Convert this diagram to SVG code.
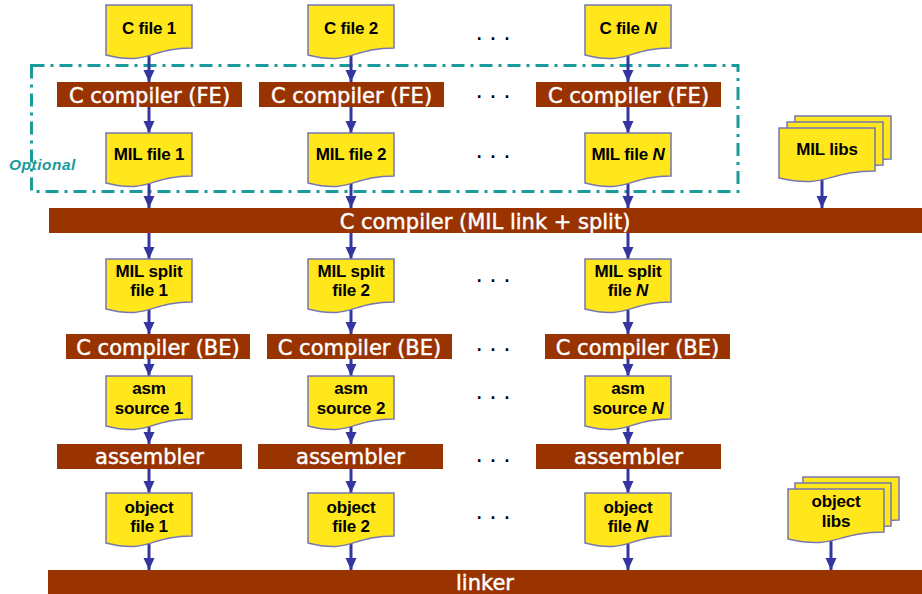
<svg xmlns="http://www.w3.org/2000/svg" xmlns:xlink="http://www.w3.org/1999/xlink" width="922" height="594" viewBox="0 0 922 594">
<style>
.doc{fill:#ffe71c;stroke:#7676b2;stroke-width:1.5}
.dt{font-family:"Liberation Sans",Arial,sans-serif;font-weight:bold;font-size:17px;fill:#000;text-anchor:middle;letter-spacing:-0.2px}
.box{fill:#993300}
.bt{font-family:"DejaVu Sans",Verdana,sans-serif;font-size:21px;fill:#fff;stroke:#fff;stroke-width:0.45;text-anchor:middle}
.dots{font-family:"Liberation Sans",Arial,sans-serif;font-size:25px;fill:#000;text-anchor:middle}
.conn line{stroke:#3535a0;stroke-width:3;marker-end:url(#ah)}
</style>
<defs>
<marker id="ah" markerUnits="userSpaceOnUse" markerWidth="12" markerHeight="12" refX="12" refY="5.5" orient="auto">
<path d="M0,0 L12,5.5 L0,11 z" fill="#3535a0"/>
</marker>
<path id="d" d="M0,0 H86 V43 C43,43 43,61 0,50 Z"/>
<path id="dl" d="M0,0 H96 V43 C48,43 48,61 0,50 Z"/>
</defs>
<rect width="922" height="594" fill="#fff"/>
<g id="optional">
<rect x="31.5" y="65.5" width="706.5" height="126" fill="none" stroke="#1a9a9a" stroke-width="3" stroke-dasharray="13 6 3 6"/>
<text x="9" y="170" font-family="'Liberation Sans',Arial,sans-serif" font-size="15.5" font-weight="bold" font-style="italic" fill="#1a9a9a" letter-spacing="0.5">Optional</text>
</g>
<g id="connectors" class="conn">
<line x1="149" y1="50" x2="149" y2="82"/><line x1="351" y1="50" x2="351" y2="82"/><line x1="628" y1="50" x2="628" y2="82"/>
<line x1="149" y1="107" x2="149" y2="133"/><line x1="351" y1="107" x2="351" y2="133"/><line x1="628" y1="107" x2="628" y2="133"/>
<line x1="149" y1="178" x2="149" y2="208"/><line x1="351" y1="178" x2="351" y2="208"/><line x1="628" y1="178" x2="628" y2="208"/>
<line x1="822" y1="175" x2="822" y2="208"/>
<line x1="149" y1="233" x2="149" y2="259"/><line x1="351" y1="233" x2="351" y2="259"/><line x1="628" y1="233" x2="628" y2="259"/>
<line x1="149" y1="300" x2="149" y2="334"/><line x1="351" y1="300" x2="351" y2="334"/><line x1="628" y1="300" x2="628" y2="334"/>
<line x1="149" y1="359" x2="149" y2="376"/><line x1="351" y1="359" x2="351" y2="376"/><line x1="628" y1="359" x2="628" y2="376"/>
<line x1="149" y1="420" x2="149" y2="444"/><line x1="351" y1="420" x2="351" y2="444"/><line x1="628" y1="420" x2="628" y2="444"/>
<line x1="149" y1="469" x2="149" y2="493"/><line x1="351" y1="469" x2="351" y2="493"/><line x1="628" y1="469" x2="628" y2="493"/>
<line x1="149" y1="537" x2="149" y2="570"/><line x1="351" y1="537" x2="351" y2="570"/><line x1="628" y1="537" x2="628" y2="570"/>
<line x1="831" y1="535" x2="831" y2="570"/>
</g>
<g id="cfile1"><use xlink:href="#d" href="#d" class="doc" x="106" y="5"/><text class="dt" x="149" y="34">C file 1</text></g>
<g id="cfile2"><use xlink:href="#d" href="#d" class="doc" x="308" y="5"/><text class="dt" x="351" y="34">C file 2</text></g>
<g id="cfileN"><use xlink:href="#d" href="#d" class="doc" x="585" y="5"/><text class="dt" x="628" y="34">C file <tspan font-style="italic">N</tspan></text></g>
<g id="fe1"><rect class="box" x="57" y="82" width="185" height="25"/><text class="bt" x="149.5" y="103">C compiler (FE)</text></g>
<g id="fe2"><rect class="box" x="259" y="82" width="185" height="25"/><text class="bt" x="351.5" y="103">C compiler (FE)</text></g>
<g id="feN"><rect class="box" x="536" y="82" width="185" height="25"/><text class="bt" x="628.5" y="103">C compiler (FE)</text></g>
<g id="mil1"><use xlink:href="#d" href="#d" class="doc" x="106" y="133"/><text class="dt" x="149" y="160">MIL file 1</text></g>
<g id="mil2"><use xlink:href="#d" href="#d" class="doc" x="308" y="133"/><text class="dt" x="351" y="160">MIL file 2</text></g>
<g id="milN"><use xlink:href="#d" href="#d" class="doc" x="585" y="133"/><text class="dt" x="628" y="160">MIL file <tspan font-style="italic">N</tspan></text></g>
<g id="millibs">
<use xlink:href="#dl" href="#dl" class="doc" x="795" y="116"/>
<use xlink:href="#dl" href="#dl" class="doc" x="787" y="122"/>
<use xlink:href="#dl" href="#dl" class="doc" x="779" y="128"/>
<text class="dt" x="827" y="155">MIL libs</text>
</g>
<g id="milsplit"><rect class="box" x="49" y="208" width="873" height="25"/><text class="bt" x="485" y="229">C compiler (MIL link + split)</text></g>
<g id="split1"><use xlink:href="#d" href="#d" class="doc" x="106" y="259"/><text class="dt" x="149" y="277">MIL split</text><text class="dt" x="149" y="296">file 1</text></g>
<g id="split2"><use xlink:href="#d" href="#d" class="doc" x="308" y="259"/><text class="dt" x="351" y="277">MIL split</text><text class="dt" x="351" y="296">file 2</text></g>
<g id="splitN"><use xlink:href="#d" href="#d" class="doc" x="585" y="259"/><text class="dt" x="628" y="277">MIL split</text><text class="dt" x="628" y="296">file <tspan font-style="italic">N</tspan></text></g>
<g id="be1"><rect class="box" x="66" y="334" width="184" height="25"/><text class="bt" x="158" y="355">C compiler (BE)</text></g>
<g id="be2"><rect class="box" x="267" y="334" width="185" height="25"/><text class="bt" x="359.5" y="355">C compiler (BE)</text></g>
<g id="beN"><rect class="box" x="545" y="334" width="185" height="25"/><text class="bt" x="637.5" y="355">C compiler (BE)</text></g>
<g id="asm1"><use xlink:href="#d" href="#d" class="doc" x="106" y="376"/><text class="dt" x="149" y="394">asm</text><text class="dt" x="149" y="414">source 1</text></g>
<g id="asm2"><use xlink:href="#d" href="#d" class="doc" x="308" y="376"/><text class="dt" x="351" y="394">asm</text><text class="dt" x="351" y="414">source 2</text></g>
<g id="asmN"><use xlink:href="#d" href="#d" class="doc" x="585" y="376"/><text class="dt" x="628" y="394">asm</text><text class="dt" x="628" y="414">source <tspan font-style="italic">N</tspan></text></g>
<g id="as1"><rect class="box" x="57" y="444" width="185" height="25"/><text class="bt" x="149.5" y="464">assembler</text></g>
<g id="as2"><rect class="box" x="258" y="444" width="185" height="25"/><text class="bt" x="350.5" y="464">assembler</text></g>
<g id="asN"><rect class="box" x="536" y="444" width="185" height="25"/><text class="bt" x="628.5" y="464">assembler</text></g>
<g id="obj1"><use xlink:href="#d" href="#d" class="doc" x="106" y="493"/><text class="dt" x="149" y="513">object</text><text class="dt" x="149" y="532">file 1</text></g>
<g id="obj2"><use xlink:href="#d" href="#d" class="doc" x="308" y="493"/><text class="dt" x="351" y="513">object</text><text class="dt" x="351" y="532">file 2</text></g>
<g id="objN"><use xlink:href="#d" href="#d" class="doc" x="585" y="493"/><text class="dt" x="628" y="513">object</text><text class="dt" x="628" y="532">file <tspan font-style="italic">N</tspan></text></g>
<g id="objlibs">
<use xlink:href="#dl" href="#dl" class="doc" x="803" y="477"/>
<use xlink:href="#dl" href="#dl" class="doc" x="795" y="483"/>
<use xlink:href="#dl" href="#dl" class="doc" x="788" y="489"/>
<text class="dt" x="836" y="507">object</text><text class="dt" x="836" y="527">libs</text>
</g>
<g id="linker"><rect class="box" x="48" y="570" width="874" height="24"/><text class="bt" x="485" y="590">linker</text></g>
<g id="ellipses">
<text class="dots" x="493" y="40">. . .</text>
<text class="dots" x="493" y="98">. . .</text>
<text class="dots" x="493" y="158">. . .</text>
<text class="dots" x="493" y="282">. . .</text>
<text class="dots" x="493" y="351">. . .</text>
<text class="dots" x="493" y="399">. . .</text>
<text class="dots" x="493" y="462">. . .</text>
<text class="dots" x="493" y="519">. . .</text>
</g>
</svg>
